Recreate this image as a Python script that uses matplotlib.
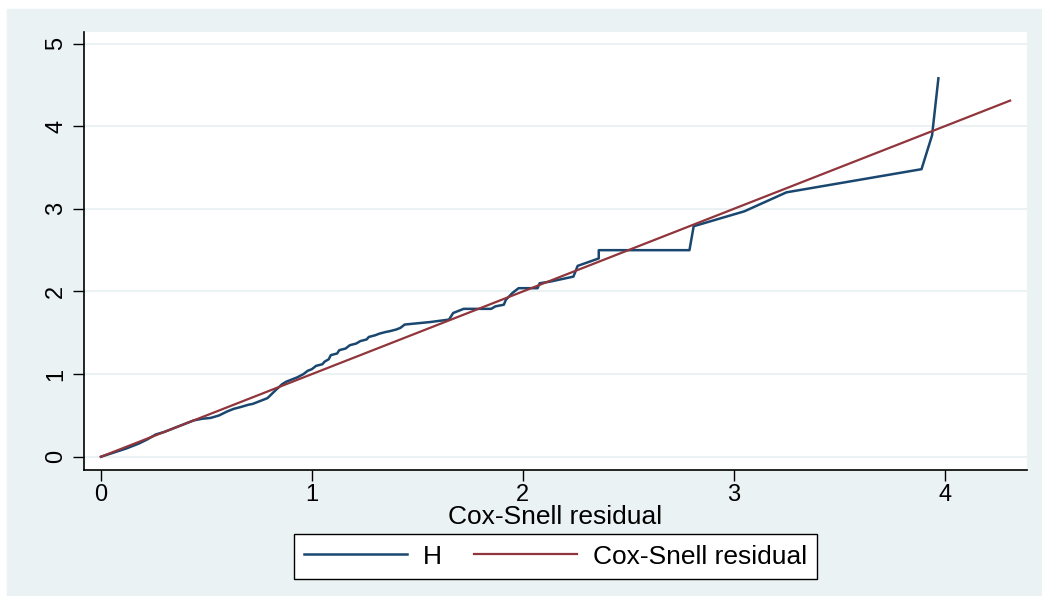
import matplotlib
matplotlib.use("Agg")
import matplotlib.pyplot as plt
from matplotlib.patches import Rectangle

# Cox-Snell residuals vs. cumulative hazard H
h_x = [0.00, 0.06, 0.12, 0.18, 0.22, 0.26, 0.30, 0.33, 0.38, 0.44,
       0.48, 0.52, 0.56, 0.60, 0.63, 0.66, 0.70, 0.72, 0.76, 0.79,
       0.81, 0.83, 0.86, 0.88, 0.91, 0.93, 0.96, 0.98, 1.00, 1.02,
       1.05, 1.06, 1.08, 1.09, 1.12, 1.13, 1.16, 1.18, 1.21, 1.23,
       1.26, 1.27, 1.30, 1.32, 1.35, 1.37, 1.40, 1.42, 1.44, 1.56,
       1.65, 1.67, 1.72, 1.85, 1.87, 1.91, 1.92, 1.95, 1.98, 2.07,
       2.08, 2.13, 2.24, 2.26, 2.36, 2.36, 2.79, 2.81, 3.05, 3.25,
       3.89, 3.94, 3.97]
h_y = [0.00, 0.05, 0.10, 0.16, 0.21, 0.27, 0.30, 0.33, 0.38, 0.44,
       0.46, 0.47, 0.50, 0.55, 0.58, 0.60, 0.63, 0.64, 0.68, 0.71,
       0.76, 0.81, 0.88, 0.91, 0.94, 0.96, 1.00, 1.04, 1.06, 1.10,
       1.12, 1.15, 1.18, 1.23, 1.25, 1.29, 1.31, 1.35, 1.37, 1.40,
       1.42, 1.45, 1.47, 1.49, 1.51, 1.52, 1.54, 1.56, 1.60, 1.63,
       1.66, 1.74, 1.79, 1.79, 1.82, 1.84, 1.90, 1.98, 2.04, 2.04,
       2.10, 2.12, 2.18, 2.31, 2.40, 2.50, 2.50, 2.79, 2.97, 3.20,
       3.48, 3.89, 4.58]
cs = [0.0, 4.31]

xticks = [0, 1, 2, 3, 4]
yticks = [0, 1, 2, 3, 4, 5]

bg = "#EAF2F3"
navy = "#1A476F"
maroon = "#90353B"

plt.rcParams["font.family"] = ["Liberation Sans", "DejaVu Sans"]

W, H = 1042, 596
fig = plt.figure(figsize=(W / 100, H / 100), dpi=100, facecolor="white")
fig.patches.append(Rectangle((7 / W, -0.01), 1.01 - 7 / W, 1.01 - 9 / H,
                             transform=fig.transFigure, color=bg, zorder=-5))

ax = fig.add_axes([84 / W, 1 - 470 / H, (1027 - 84) / W, (470 - 32) / H])
ax.set_facecolor("white")

ax.plot(h_x, h_y, color=navy, lw=1.8, label="H")
ax.plot(cs, cs, color=maroon, lw=1.6, label="Cox-Snell residual")

ax.set_xlim(-0.08, 4.39)
ax.set_ylim(-0.16, 5.14)
ax.set_xticks(xticks)
ax.set_yticks(yticks)
ax.yaxis.grid(True, color=bg, lw=1.5)
ax.set_axisbelow(True)

for s in ["top", "right"]:
    ax.spines[s].set_visible(False)
for s in ["left", "bottom"]:
    ax.spines[s].set_color("black")
    ax.spines[s].set_linewidth(1.2)

ax.tick_params(axis="both", length=8, width=1, color="black", labelsize=17)
ax.tick_params(axis="y", labelrotation=90, pad=4)
for lab in ax.get_yticklabels():
    lab.set_va("center")
ax.tick_params(axis="x", pad=2)

fig.text(555.5 / W, 1 - 517 / H, "Cox-Snell residual", ha="center", va="center", fontsize=19)

leg = fig.legend(loc="center", bbox_to_anchor=(555.5 / W, 1 - 556.5 / H), ncol=2,
                 fontsize=19, frameon=True, fancybox=False, edgecolor="black",
                 framealpha=1, handlelength=3.9, handletextpad=0.6,
                 columnspacing=1.2, borderpad=0.4, borderaxespad=0)
leg.get_frame().set_linewidth(1.0)

fig.savefig("out.png", dpi=100, facecolor=fig.get_facecolor())
